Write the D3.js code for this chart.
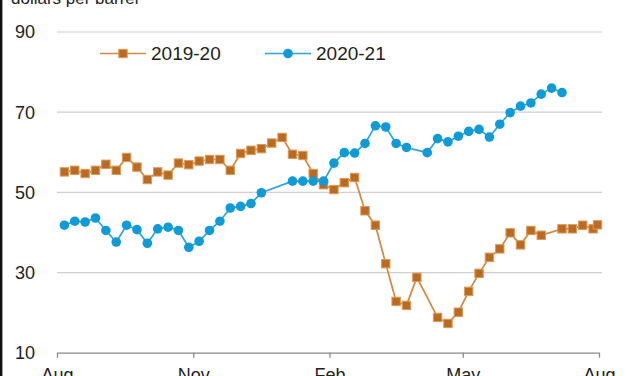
<!DOCTYPE html>
<html>
<head>
<meta charset="utf-8">
<script src="https://cdn.jsdelivr.net/npm/d3@7"></script>
<style>
  html, body { margin: 0; padding: 0; background: #fff; }
  svg { display: block; font-family: "Liberation Sans", Arial, sans-serif; }
</style>
</head>
<body>
<svg id="chart"></svg>
<script>
// weekly prices, first week starting 2019-08-06 (null = no marker that week)
const firstWeek = '2019-08-06';
const series2019 = [55.1, 55.5, 54.7, 55.5, 57.0, 55.5, 58.7, 56.3, 53.2, 55.1,
    54.3, 57.3, 56.9, 57.8, 58.2, 58.2, 55.5, 59.7, 60.5, 60.9,
    62.3, 63.7, 59.5, 59.2, 54.7, 51.9, 50.7, 52.4, 53.7, 45.4,
    41.8, 32.2, 22.8, 21.8, 28.8, null, 18.8, 17.3, 20.1, 25.3,
    29.8, 33.8, 35.9, 39.9, 36.9, 40.5, 39.3, null, 40.9, 40.9,
    41.8, 40.9];
const extra2019 = { date: '2020-07-31', value: 41.9 };
const series2020 = [41.8, 42.8, 42.6, 43.6, 40.5, 37.6, 41.8, 40.7, 37.3, 40.9,
    41.3, 40.5, 36.3, 37.8, 40.5, 42.8, 46.1, 46.5, 47.2, 49.9,
    null, null, 52.8, 52.8, 52.8, 52.8, 57.3, 59.9, 59.8, 62.2,
    66.6, 66.3, 62.2, 61.2, null, 59.9, 63.4, 62.6, 64.0, 65.2,
    65.7, 63.8, 67.0, 69.9, 71.5, 72.3, 74.5, 76.0, 74.9];
const yTicks = [10, 30, 50, 70, 90];
const xTickDates = ['2019-08-01', '2019-11-01', '2020-02-01', '2020-05-01', '2020-08-01'];
const xTickLabels = ['Aug', 'Nov', 'Feb', 'May', 'Aug'];
const seriesNames = ['2019-20', '2020-21'];

const width = 627, height = 376;
const parse = d3.timeParse('%Y-%m-%d');
const colors = { line1: '#d2883f', mark1: '#bb6a22', mark1Edge: '#dc9a58',
                 line2: '#2aa5de', mark2: '#0f9ad8' };
const sq = 8.4, dotR = 4.8;

const svg = d3.select('#chart').attr('width', width).attr('height', height);

const x = d3.scaleTime()
    .domain([parse(xTickDates[0]), parse(xTickDates[4])])
    .range([57, 599]);
const y = d3.scaleLinear().domain([10, 90]).range([352.7, 32]);

// turn value lists into dated points
const start = parse(firstWeek);
function toPoints(values) {
    return values.map((v, i) => ({ date: d3.timeDay.offset(start, 7 * i), value: v }))
        .filter(d => d.value !== null);
}
const pts2019 = toPoints(series2019).concat([{ date: parse(extra2019.date), value: extra2019.value }]);
const pts2020 = toPoints(series2020);

// left frame line
svg.append('line')
    .attr('x1', 1.2).attr('x2', 1.2).attr('y1', 0).attr('y2', height)
    .attr('stroke', '#111').attr('stroke-width', 2.4);

// axis title (cut off at top)
svg.append('text')
    .attr('x', 11).attr('y', 4)
    .attr('font-size', 17).attr('fill', '#222')
    .text('dollars per barrel');

// gridlines
svg.append('g').selectAll('line')
    .data(yTicks.filter(t => t > 10))
    .join('line')
    .attr('x1', 57).attr('x2', 602)
    .attr('y1', d => y(d)).attr('y2', d => y(d))
    .attr('stroke', '#cfcfd3').attr('stroke-width', 1.2);

// y tick labels
svg.append('g').selectAll('text')
    .data(yTicks)
    .join('text')
    .attr('x', 35).attr('y', d => y(d)).attr('dy', '0.36em')
    .attr('text-anchor', 'end').attr('font-size', 18).attr('fill', '#222')
    .text(d => d);

// x axis
const xAxis = d3.axisBottom(x)
    .tickValues(xTickDates.map(parse))
    .tickFormat((d, i) => xTickLabels[i])
    .tickSizeInner(5).tickSizeOuter(0).tickPadding(11);
const gx = svg.append('g')
    .attr('transform', 'translate(0,' + y(10) + ')')
    .call(xAxis);
gx.select('.domain').attr('stroke', '#8a8a8a').attr('stroke-width', 1.3);
gx.selectAll('.tick line').attr('stroke', '#8a8a8a').attr('stroke-width', 1.3);
gx.selectAll('.tick text')
    .attr('font-size', 18).attr('fill', '#222')
    .attr('font-family', '"Liberation Sans", Arial, sans-serif');

const line = d3.line().x(d => x(d.date)).y(d => y(d.value));

// 2019-20 series
svg.append('path').datum(pts2019)
    .attr('d', line).attr('fill', 'none')
    .attr('stroke', colors.line1).attr('stroke-width', 1.7);
svg.append('g').selectAll('rect')
    .data(pts2019)
    .join('rect')
    .attr('x', d => x(d.date) - sq / 2).attr('y', d => y(d.value) - sq / 2)
    .attr('width', sq).attr('height', sq)
    .attr('fill', colors.mark1).attr('stroke', colors.mark1Edge).attr('stroke-width', 1);

// 2020-21 series
svg.append('path').datum(pts2020)
    .attr('d', line).attr('fill', 'none')
    .attr('stroke', colors.line2).attr('stroke-width', 1.7);
svg.append('g').selectAll('circle')
    .data(pts2020)
    .join('circle')
    .attr('cx', d => x(d.date)).attr('cy', d => y(d.value))
    .attr('r', dotR)
    .attr('fill', colors.mark2);

// legend
const legend = svg.append('g');
const legendItems = [
    { name: seriesNames[0], x0: 100, lineColor: colors.line1 },
    { name: seriesNames[1], x0: 265, lineColor: colors.line2 }
];
legendItems.forEach((item, i) => {
    const g = legend.append('g').attr('transform', 'translate(' + item.x0 + ',53.5)');
    g.append('line').attr('x1', 0).attr('x2', 46)
        .attr('stroke', item.lineColor).attr('stroke-width', 1.7);
    if (i === 0) {
        g.append('rect').attr('x', 23 - sq / 2).attr('y', -sq / 2)
            .attr('width', sq).attr('height', sq)
            .attr('fill', colors.mark1).attr('stroke', colors.mark1Edge).attr('stroke-width', 1);
    } else {
        g.append('circle').attr('cx', 23).attr('r', dotR).attr('fill', colors.mark2);
    }
    g.append('text').attr('x', 51).attr('y', 0).attr('dy', '0.36em')
        .attr('font-size', 19).attr('fill', '#222')
        .text(item.name);
});
</script>
</body>
</html>
